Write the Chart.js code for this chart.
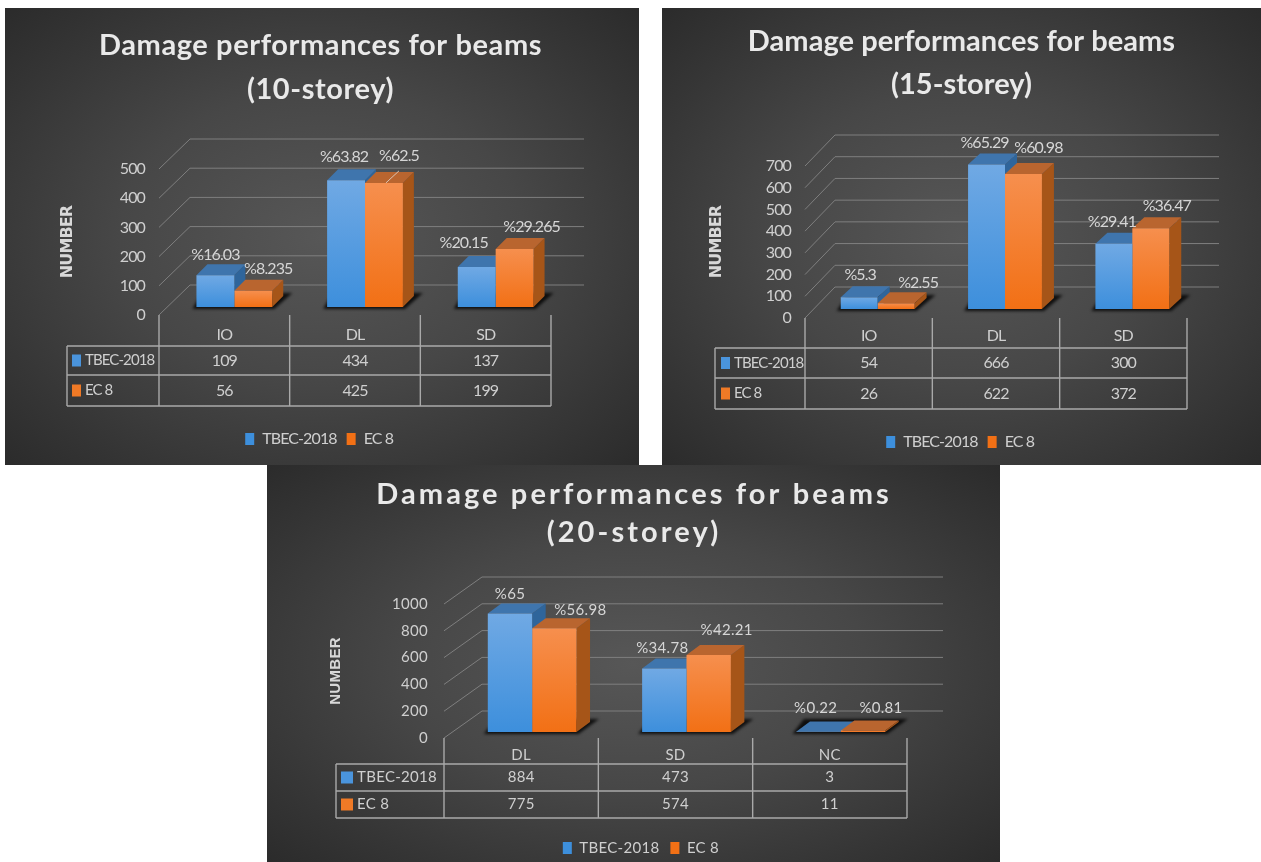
<!DOCTYPE html>
<html>
<head>
<meta charset="utf-8">
<title>Damage performances for beams</title>
<script src="https://cdn.jsdelivr.net/npm/chart.js@4/dist/chart.umd.min.js"></script>
<style>
  html, body { margin: 0; padding: 0; background: #fff; }
  body { width: 1261px; height: 862px; position: relative; overflow: hidden; }
  canvas {
    position: absolute;
    display: block;
    background: radial-gradient(ellipse at 50% 50%, #575757 0%, #474747 45%, #353535 80%, #2b2b2b 100%);
  }
</style>
</head>
<body>
<canvas id="chart10"></canvas>
<canvas id="chart15"></canvas>
<canvas id="chart20"></canvas>
<script>
const seriesNames = ['TBEC-2018', 'EC 8'];

const categories10 = ['IO', 'DL', 'SD'];
const tbec10 = [109, 434, 137];
const ec10 = [56, 425, 199];
const tbecPercent10 = ['%16.03', '%63.82', '%20.15'];
const ecPercent10 = ['%8.235', '%62.5', '%29.265'];

const categories15 = ['IO', 'DL', 'SD'];
const tbec15 = [54, 666, 300];
const ec15 = [26, 622, 372];
const tbecPercent15 = ['%5.3', '%65.29', '%29.41'];
const ecPercent15 = ['%2.55', '%60.98', '%36.47'];

const categories20 = ['DL', 'SD', 'NC'];
const tbec20 = [884, 473, 3];
const ec20 = [775, 574, 11];
const tbecPercent20 = ['%65', '%34.78', '%0.22'];
const ecPercent20 = ['%56.98', '%42.21', '%0.81'];

const BLUE = { top: '#3f75ad', side: '#2f659b', light: '#70a9e4', dark: '#3d8fdc', flat: '#4a94dc' };
const ORANGE = { top: '#b9652f', side: '#a65518', light: '#f68f4e', dark: '#f27015', flat: '#f07a26' };
const LINE_COLOR = '#7f7f7f';
const TABLE_COLOR = '#a9a9a9';
const TEXT_COLOR = '#cfcfcf';

function polygon(ctx, points, fill) {
  ctx.beginPath();
  points.forEach(([x, y], i) => (i ? ctx.lineTo(x, y) : ctx.moveTo(x, y)));
  ctx.closePath();
  ctx.fillStyle = fill;
  ctx.fill();
}

// walls, floor shadows and the top/side faces of the bars
function drawBackdrop(chart, f) {
  const { ctx, chartArea, scales } = chart;
  ctx.save();
  ctx.strokeStyle = LINE_COLOR;
  ctx.lineWidth = 1;
  scales.y.ticks.forEach(tick => {
    const y = scales.y.getPixelForValue(tick.value);
    ctx.beginPath();
    ctx.moveTo(chartArea.left, y);
    ctx.lineTo(chartArea.left + f.wall.x, y - f.wall.y);
    ctx.lineTo(f.backX, y - f.wall.y);
    ctx.stroke();
  });

  const [front, back] = [chart.getDatasetMeta(0).data, chart.getDatasetMeta(1).data];
  const baseY = chartArea.bottom + f.shift.y;

  ctx.filter = 'blur(1.5px)';
  front.forEach((bar, i) => {
    const left = bar.x - bar.width / 2 + f.shift.x;
    const right = back[i].x + back[i].width / 2 + f.shift.x;
    polygon(ctx, [
      [left - 4, baseY + 2],
      [right + 2, baseY + 2],
      [right + f.depth.x + 9, baseY - f.depth.y - 3],
      [left + f.depth.x - 6, baseY - f.depth.y - 3],
    ], 'rgba(0,0,0,0.8)');
  });
  ctx.filter = 'none';

  [[front, BLUE], [back, ORANGE]].forEach(([bars, colors]) => {
    bars.forEach(bar => {
      const left = bar.x - bar.width / 2 + f.shift.x;
      const right = left + bar.width;
      const top = bar.y + f.shift.y;
      polygon(ctx, [
        [right, top],
        [right + f.depth.x, top - f.depth.y],
        [right + f.depth.x, baseY - f.depth.y],
        [right, baseY],
      ], colors.side);
      polygon(ctx, [
        [left, top],
        [left + f.depth.x, top - f.depth.y],
        [right + f.depth.x, top - f.depth.y],
        [right, top],
      ], colors.top);
    });
  });
  ctx.restore();
}

function drawPercentLabels(chart, f, percents) {
  const { ctx } = chart;
  ctx.save();
  ctx.font = f.smallFont;
  ctx.fillStyle = '#d6d6d6';
  ctx.textAlign = 'center';
  ctx.textBaseline = 'middle';
  percents.forEach((labels, d) => {
    chart.getDatasetMeta(d).data.forEach((bar, i) => {
      const [dx, dy] = f.labelOffsets[d][i];
      ctx.fillText(labels[i], bar.x + f.shift.x + dx, bar.y + f.shift.y + dy);
    });
  });
  if (f.leader) {
    const bar = chart.getDatasetMeta(f.leader.dataset).data[f.leader.index];
    const x = bar.x + f.shift.x;
    const y = bar.y + f.shift.y;
    ctx.strokeStyle = '#d9c3b4';
    ctx.beginPath();
    ctx.moveTo(x + 2, y);
    ctx.lineTo(x + 15, y - 12);
    ctx.stroke();
  }
  ctx.restore();
}

// data table under the plot, with the category labels in its open top row
function drawTable(chart, f, rows) {
  const { ctx, chartArea, scales } = chart;
  const { left, right, bottom } = chartArea;
  const colWidth = (right - left) / scales.x.ticks.length;
  const [r0, r1, r2] = f.rows;
  ctx.save();
  ctx.strokeStyle = TABLE_COLOR;
  ctx.lineWidth = 1.4;
  ctx.beginPath();
  for (let i = 0; i <= scales.x.ticks.length; i++) {
    ctx.moveTo(left + i * colWidth, bottom);
    ctx.lineTo(left + i * colWidth, r2);
  }
  ctx.moveTo(f.tableLeft, r0);
  ctx.lineTo(f.tableLeft, r2);
  [r0, r1, r2].forEach(y => {
    ctx.moveTo(f.tableLeft, y);
    ctx.lineTo(right, y);
  });
  ctx.stroke();

  ctx.textBaseline = 'middle';
  rows.forEach((values, r) => {
    const y = (f.rows[r] + f.rows[r + 1]) / 2;
    ctx.fillStyle = r === 0 ? BLUE.flat : ORANGE.flat;
    ctx.fillRect(f.tableLeft + f.keyInset, y - 6, f.keyWidth, 12);
    ctx.fillStyle = TEXT_COLOR;
    ctx.textAlign = 'left';
    ctx.font = f.nameFont;
    ctx.fillText(seriesNames[r], f.tableLeft + f.keyInset + f.keyWidth + 4, y);
    ctx.textAlign = 'center';
    ctx.font = f.smallFont;
    values.forEach((value, i) => ctx.fillText(value, scales.x.getPixelForValue(i), y));
  });
  ctx.restore();
}

// title and legend are centred on the padded layout, so move them to where they belong
function placeBox(chart, box, centerX, spacing) {
  const draw = box.draw;
  box.draw = function () {
    const ctx = chart.ctx;
    ctx.save();
    ctx.translate(centerX - (box.left + box.right) / 2, 0);
    ctx.letterSpacing = spacing;
    draw.call(box);
    ctx.restore();
  };
}

function barFill(colors) {
  return context => {
    if (context.type !== 'data') return colors.flat;
    const { chart, parsed } = context;
    const { y } = chart.scales;
    const topY = y.getPixelForValue(parsed.y);
    const baseY = y.getPixelForValue(0);
    if (!isFinite(topY) || !isFinite(baseY)) return colors.flat;
    const gradient = chart.ctx.createLinearGradient(0, topY, 0, baseY);
    gradient.addColorStop(0, colors.light);
    gradient.addColorStop(1, colors.dark);
    return gradient;
  };
}

function createBeamChart(id, categories, tbec, ec, tbecPercent, ecPercent, f) {
  const canvas = document.getElementById(id);
  canvas.width = f.panel.width;
  canvas.height = f.panel.height;
  canvas.style.left = f.panel.left + 'px';
  canvas.style.top = f.panel.top + 'px';

  const legendHeight = f.legendPadding * 2 + f.fontSize;
  const legendBottom = f.legendY + legendHeight / 2;
  const tickFont = { family: 'Lato', size: f.fontSize };

  return new Chart(canvas.getContext('2d'), {
    type: 'bar',
    data: {
      labels: categories,
      datasets: [
        { label: seriesNames[0], data: tbec, backgroundColor: barFill(BLUE), clip: false },
        { label: seriesNames[1], data: ec, backgroundColor: barFill(ORANGE), clip: false },
      ],
    },
    options: {
      responsive: false,
      animation: false,
      categoryPercentage: f.barFraction,
      barPercentage: 1,
      layout: { padding: { left: 0, top: 0, right: f.panel.width - f.right, bottom: f.panel.height - legendBottom } },
      scales: {
        x: {
          afterFit: scale => { scale.height = legendBottom - legendHeight - f.bottom; },
          grid: { display: false, drawTicks: false },
          border: { display: false },
          ticks: { color: TEXT_COLOR, font: tickFont, padding: f.xTickPadding, maxRotation: 0 },
        },
        y: {
          min: 0,
          max: f.max,
          afterFit: scale => { scale.width = f.axisX; },
          grid: { display: false, drawTicks: false },
          border: { display: false },
          ticks: {
            stepSize: f.step,
            autoSkip: false,
            callback: value => String(value),
            color: TEXT_COLOR,
            font: tickFont,
            padding: f.yTickPadding,
          },
          title: {
            display: true,
            text: 'NUMBER',
            color: '#d8d8d8',
            font: { family: f.axisTitleFamily, size: f.axisTitleSize, weight: 'bold' },
            padding: { top: f.axisTitleX - 9, bottom: 0 },
          },
        },
      },
      plugins: {
        tooltip: { enabled: false },
        title: {
          display: true,
          text: ['Damage performances for beams', f.subtitle],
          color: '#e9e9e9',
          font: { family: 'Lato', size: f.titleSize, weight: 'bold', lineHeight: f.titleLine / f.titleSize },
          padding: { top: f.titleY - f.titleLine / 2, bottom: f.top - (f.titleY - f.titleLine / 2) - 2 * f.titleLine },
        },
        legend: {
          position: 'bottom',
          labels: {
            color: TEXT_COLOR,
            font: tickFont,
            boxWidth: 9,
            boxHeight: 12,
            padding: f.legendPadding,
          },
        },
      },
    },
    plugins: [{
      id: 'beam3d',
      afterInit(chart) {
        placeBox(chart, chart.titleBlock, f.titleCenter, f.titleSpacing);
        placeBox(chart, chart.legend, f.legendCenter, f.textSpacing);
      },
      beforeDraw(chart) {
        chart.ctx.letterSpacing = f.textSpacing;
      },
      beforeDatasetsDraw(chart) {
        drawBackdrop(chart, f);
        chart.ctx.save();
        chart.ctx.translate(f.shift.x, f.shift.y);
      },
      afterDatasetsDraw(chart) {
        chart.ctx.restore();
        drawPercentLabels(chart, f, [tbecPercent, ecPercent]);
      },
      afterDraw(chart) {
        drawTable(chart, f, [tbec, ec]);
      },
    }],
  });
}

createBeamChart('chart10', categories10, tbec10, ec10, tbecPercent10, ecPercent10, {
  panel: { left: 5, top: 8, width: 634, height: 457 },
  subtitle: '(10-storey)',
  titleSize: 29, titleLine: 44, titleY: 38, titleCenter: 315.5, titleSpacing: '0.6px',
  fontSize: 16, textSpacing: '-0.9px', smallFont: '16px Lato', nameFont: '15px Lato', yTickPadding: 14,
  axisTitleFamily: '"DejaVu Sans"', axisTitleSize: 16, axisTitleX: 62,
  legendPadding: 10, legendY: 431, legendCenter: 320,
  axisX: 154, top: 161, bottom: 307, right: 546, backX: 579,
  max: 500, step: 100, barFraction: 0.58, xTickPadding: 10,
  wall: { x: 31, y: 30 }, shift: { x: 10, y: -8 }, depth: { x: 11, y: 11 },
  tableLeft: 62, rows: [338, 367, 398], keyInset: 5, keyWidth: 9,
  labelOffsets: [[[0, -20], [-2, -23], [-13, -24]], [[15, -22], [15, -27], [17, -22]]],
  leader: { dataset: 1, index: 1 },
});

createBeamChart('chart15', categories15, tbec15, ec15, tbecPercent15, ecPercent15, {
  panel: { left: 662, top: 8, width: 599, height: 457 },
  subtitle: '(15-storey)',
  titleSize: 29, titleLine: 43, titleY: 34, titleCenter: 299.5, titleSpacing: '0.05px',
  fontSize: 16, textSpacing: '-0.9px', smallFont: '16px Lato', nameFont: '15px Lato', yTickPadding: 14,
  axisTitleFamily: '"DejaVu Sans"', axisTitleSize: 16, axisTitleX: 54,
  legendPadding: 10, legendY: 434, legendCenter: 304,
  axisX: 143, top: 158, bottom: 310, right: 525, backX: 557,
  max: 700, step: 100, barFraction: 0.58, xTickPadding: 8,
  wall: { x: 30, y: 31 }, shift: { x: 9, y: -9 }, depth: { x: 12, y: 11 },
  tableLeft: 53, rows: [340, 370, 401], keyInset: 6, keyWidth: 9,
  labelOffsets: [[[1, -22], [-2, -22], [-2, -22]], [[22, -21], [15, -26], [16, -22]]],
});

createBeamChart('chart20', categories20, tbec20, ec20, tbecPercent20, ecPercent20, {
  panel: { left: 267, top: 465, width: 733, height: 397 },
  subtitle: '(20-storey)',
  titleSize: 29, titleLine: 38, titleY: 30, titleCenter: 367, titleSpacing: '3.1px',
  fontSize: 15, textSpacing: '0.3px', smallFont: '15px Lato', nameFont: '15px Lato', yTickPadding: 16,
  axisTitleFamily: '"Liberation Sans"', axisTitleSize: 15, axisTitleX: 69,
  legendPadding: 11, legendY: 382, legendCenter: 372,
  axisX: 177, top: 139, bottom: 272, right: 640, backX: 676,
  max: 1000, step: 200, barFraction: 0.575, xTickPadding: 8,
  wall: { x: 38, y: 27 }, shift: { x: 11, y: -6 }, depth: { x: 13.5, y: 10 },
  tableLeft: 69, rows: [299, 326, 353], keyInset: 5, keyWidth: 12,
  labelOffsets: [[[0, -19], [-2, -20], [-3, -23]], [[26, -18], [18, -25], [18, -22]]],
});
</script>
</body>
</html>
